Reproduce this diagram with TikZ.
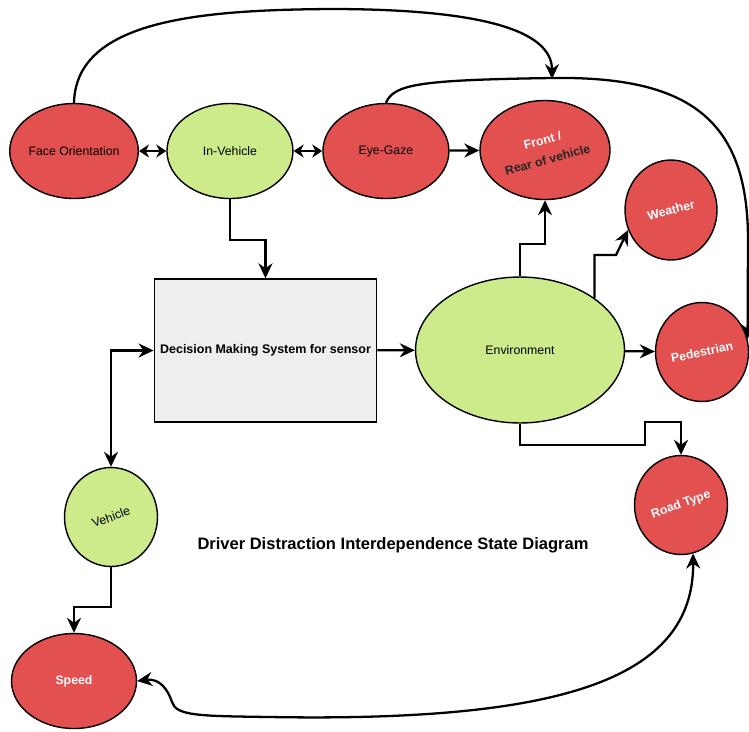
\documentclass[tikz,border=0pt]{standalone}
\usepackage{fontspec}
\setmainfont{Liberation Sans}
\usepackage{tikz}
\usetikzlibrary{arrows.meta}
\usetikzlibrary{shapes}

\definecolor{distred}{RGB}{226,80,80}
\definecolor{distgreen}{RGB}{205,235,139}
\definecolor{boxgray}{RGB}{238,238,238}

\begin{document}
\begin{tikzpicture}[->,>={Stealth[length=0.3cm,width=0.28cm]},x=0.02cm,y=-0.02cm,
  node distance=3.12cm,line width=1.3pt,
  redstate/.style={ellipse,draw,line width=0.8pt,fill=distred,inner sep=0pt,
    minimum width=2.52cm,minimum height=1.9cm,font=\fontsize{7}{8}\selectfont},
  greenstate/.style={redstate,fill=distgreen},
  roundstate/.style={redstate,minimum width=1.86cm,minimum height=1.98cm,
    text=white,font=\fontsize{7}{8}\selectfont\bfseries},
  sensorbox/.style={rectangle,draw,line width=0.8pt,fill=boxgray,
    minimum width=4.38cm,minimum height=2.86cm,font=\fontsize{7.1}{8}\selectfont\bfseries}]
\useasboundingbox (0,0) rectangle (749,731);

\node[redstate] (face) at (74,151) {Face Orientation};
\node[greenstate] (inveh) [right of=face] {In-Vehicle};
\node[redstate] (eye) [right of=inveh] {Eye-Gaze};
\node[roundstate] (front) at (545,150) {\rotatebox{15}{\shortstack{Front /\\[3pt]\textcolor{black!85}{Rear of vehicle}}}};
\node[roundstate,minimum width=1.84cm,minimum height=2cm] (weather) at (671,210) {\rotatebox{15}{Weather}};
\node[sensorbox] (dec) at (265.5,350.5) {Decision Making System for sensor};
\node[greenstate,minimum width=4.18cm,minimum height=2.92cm] (env) at (520,350) {Environment};
\node[roundstate] (ped) at (702,352) {\rotatebox{12}{Pedestrian}};
\node[greenstate,minimum width=1.86cm,minimum height=1.98cm] (veh) at (111,517) {\rotatebox{20}{Vehicle}};
\node[roundstate] (road) at (681,505) {\rotatebox{20}{Road Type}};
\node[roundstate,minimum width=2.5cm,minimum height=1.9cm] (speed) at (74,681) {Speed};
\node[font=\fontsize{9.4}{11}\selectfont\bfseries] (title) at (393,545) {Driver Distraction Interdependence State Diagram};

\coordinate (join) at (552,79);

\path (face) edge[{Stealth[length=0.2cm,width=0.26cm]}-{Stealth[length=0.2cm,width=0.26cm]}] (inveh)
      (inveh) edge[{Stealth[length=0.2cm,width=0.26cm]}-{Stealth[length=0.2cm,width=0.26cm]}] (eye)
      (eye) edge (front)
      (dec) edge (env)
      (env) edge (ped);

\draw (inveh.south) -- ++(0,41) -| (dec.north);
\draw (env.north) -- ++(0,-32) -| (front.south);
\draw (env.35) |- (616,255) -- (weather.205);
\draw (env.south) |- (645,445) -- (645,422) -| (road.north);
\draw[<->] (dec.west) -| (veh.north);
\draw (veh.south) -- ++(0,40) -| (speed.north);

% curved links
\draw (face.north) .. controls (76,20) and (200,10) .. (330,9) .. controls (480,9) and (552,30) .. (join);
\draw (eye.north) .. controls (394,84) and (420,80) .. (552,78) .. controls (690,76) and (748,120) .. (748,240) -- (ped.16);
\draw[<->] (speed.east) .. controls (160,678) and (168,690) .. (172,702) .. controls (176,716) and (200,716) .. (270,717) .. controls (560,722) and (694,680) .. (road.-76);
\end{tikzpicture}
\end{document}
